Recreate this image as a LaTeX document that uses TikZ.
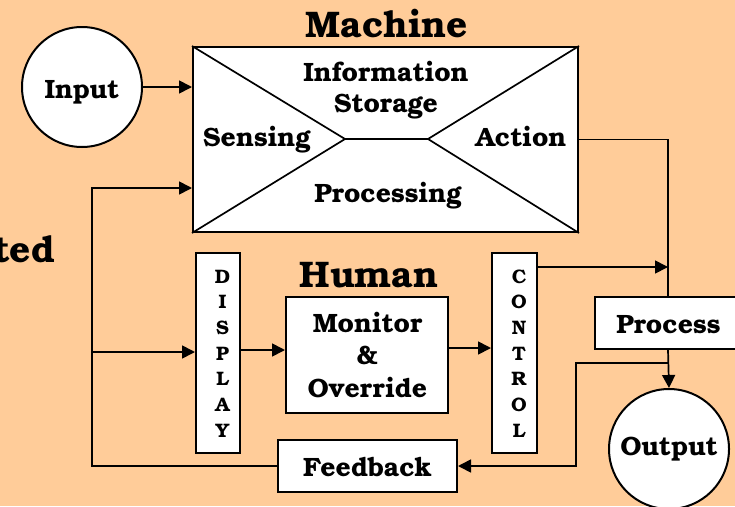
\documentclass[tikz,border=0pt]{standalone}
\usepackage{fontspec}
\setmainfont{TeX Gyre Bonum}
\usetikzlibrary{arrows.meta,calc}
\definecolor{peach}{HTML}{FFCC99}
\begin{document}
\begin{tikzpicture}[x=1pt,y=-1pt,
  box/.style={draw, line width=2pt, fill=white, rectangle, inner sep=0pt},
  circ/.style={draw, line width=2pt, fill=white, circle, minimum size=120pt, inner sep=0pt},
  lbl/.style={font=\fontsize{26.5}{32.5}\selectfont\bfseries, inner sep=0pt, align=center},
  headline/.style={font=\fontsize{37}{42}\selectfont\bfseries, inner sep=0pt},
  vtext/.style={font=\fontsize{19.5}{25.7}\selectfont\bfseries, inner sep=0pt, align=center},
  ln/.style={line width=1.7pt},
  arr/.style={line width=1.7pt, -{Triangle[length=13pt,width=13pt]}}]
\fill[peach] (0,0) rectangle (735,506);
\useasboundingbox (0,0) rectangle (735,506);

% headings
\node[headline, anchor=base] (machinetitle) at (387,37) {Machine};
\node[headline, anchor=base] (humantitle) at (369,287) {Human};
\node[headline, anchor=base east] (sidetitle) at (55,262) {ted};

% machine block with its four zones
\node[box, minimum width=385pt, minimum height=185pt] (machine) at (385.5,139.5) {};
\coordinate (ml) at (345,139);
\coordinate (mr) at (428,139);
\draw[ln] (machine.north west) -- (ml) -- (machine.south west);
\draw[ln] (machine.north east) -- (mr) -- (machine.south east);
\draw[ln] (ml) -- (mr);
\node[lbl, font=\fontsize{26.5}{31}\selectfont\bfseries] (storage) at (386,90) {Information\\Storage};
\node[lbl, anchor=base] (sensing) at (257,146) {Sensing};
\node[lbl, anchor=base] (action) at (521,146) {Action};
\node[lbl, anchor=base] (processing) at (388,202) {Processing};

% input / output
\node[circ] (input) at (82,87) {};
\node[lbl, anchor=base] (inputtext) at (82,98) {Input};
\node[circ, lbl] (output) at (669,449) {Output};

% human loop
\node[box, minimum width=44pt, minimum height=200pt] (display) at (218,353) {};
\node[vtext] (displaytext) at (222.5,353.5) {D\\I\\S\\P\\L\\A\\Y};
\node[box, lbl, minimum width=162pt, minimum height=116pt] (monitor) at (367,355) {};
\node[lbl] (monitortext) at (367.5,355) {Monitor\\\&\\Override};
\node[box, minimum width=45pt, minimum height=200pt] (control) at (514.5,352.5) {};
\node[vtext] (controltext) at (519,353.5) {C\\O\\N\\T\\R\\O\\L};
\node[box, minimum width=146pt, minimum height=52pt] (process) at (668,323) {};
\node[lbl, anchor=base] (processtext) at (668.5,333) {Process};
\node[box, minimum width=179pt, minimum height=52pt] (feedback) at (367.5,466) {};
\node[lbl, anchor=base] (feedbacktext) at (367.5,476) {Feedback};

% connectors
\draw[arr] (input.east) -- (input.east -| machine.west);
\draw[ln] (machine.east) -| (process.north);
\coordinate (ctl) at (537,267);
\draw[arr] (ctl) -- (ctl -| process.north);
\draw[arr] (process.south) -- (output.north);
\coordinate (fbk) at ($(process.south)+(0,13)$);
\draw[arr] (fbk) -| ($(feedback.east)+(118,0)$) -- (feedback.east);
\coordinate (loop) at (92,188);
\draw[arr] (feedback.west) -| (loop) -- (loop -| machine.west);
\coordinate (loopd) at (92,352);
\draw[arr] (loopd) -- (loopd -| display.west);
\coordinate (dm) at (240,350);
\draw[arr] (dm) -- (dm -| monitor.west);
\coordinate (mc) at (448,348);
\draw[arr] (mc) -- (mc -| control.west);
\end{tikzpicture}
\end{document}
